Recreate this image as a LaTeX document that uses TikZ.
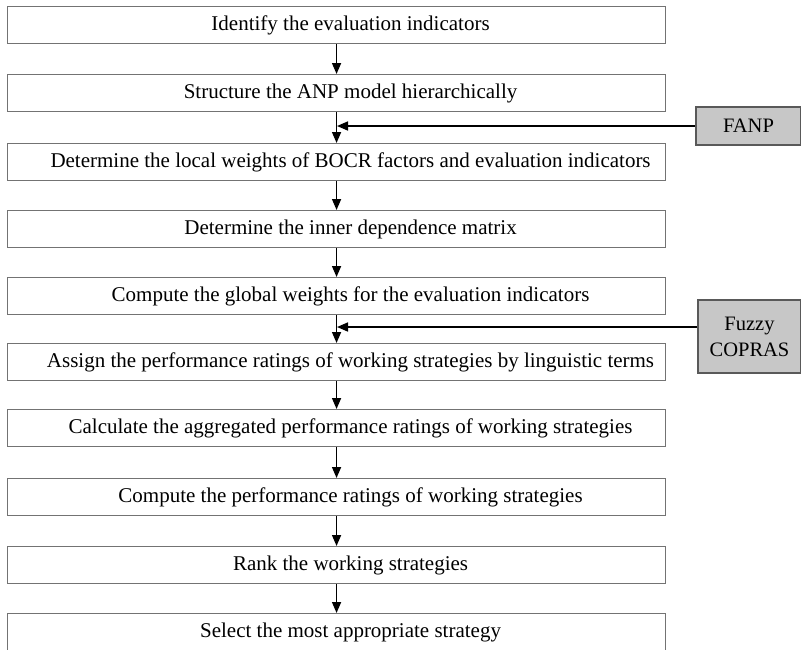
\documentclass[tikz,border=0pt]{standalone}
\usepackage{fontspec}
\setmainfont{Liberation Serif}
\usetikzlibrary{arrows.meta}
\begin{document}
\begin{tikzpicture}[x=1pt,y=-1pt,
  flowbox/.style={draw=black!55, line width=1.1pt, minimum width=658pt, minimum height=37pt, inner sep=0pt, anchor=north west, font=\fontsize{21}{24}\selectfont, execute at begin node={\hspace*{28pt}}},
  sidebox/.style={draw=black!65, line width=2pt, fill=black!22, inner sep=0pt, anchor=north west, align=center, font=\fontsize{20.5}{26}\selectfont},
  flow/.style={line width=1.6pt, -{Triangle[width=9pt,length=11pt]}}]
\useasboundingbox (0,0) rectangle (801,649);
\node[flowbox] (b1) at (7,6) {Identify the evaluation indicators};
\node[flowbox] (b2) at (7,74) {Structure the ANP model hierarchically};
\node[flowbox] (b3) at (7,143) {Determine the local weights of BOCR factors and evaluation indicators};
\node[flowbox] (b4) at (7,210) {Determine the inner dependence matrix};
\node[flowbox] (b5) at (7,277) {Compute the global weights for the evaluation indicators};
\node[flowbox] (b6) at (7,343) {Assign the performance ratings of working strategies by linguistic terms};
\node[flowbox] (b7) at (7,409) {Calculate the aggregated performance ratings of working strategies};
\node[flowbox] (b8) at (7,478) {Compute the performance ratings of working strategies};
\node[flowbox] (b9) at (7,546) {Rank the working strategies};
\node[flowbox] (b10) at (7,613) {Select the most appropriate strategy};
\node[sidebox, minimum width=105pt, minimum height=38pt] (fanp) at (695,106) {FANP};
\node[sidebox, minimum width=103pt, minimum height=73pt] (fc) at (697,299) {Fuzzy\\COPRAS};
\foreach \a/\b in {b1/b2,b2/b3,b3/b4,b4/b5,b5/b6,b6/b7,b7/b8,b8/b9,b9/b10}
  \draw[flow] (\a.south) -- (\b.north);
\coordinate (j1) at (337,126);
\coordinate (j2) at (337,327);
\draw[flow] (fanp.west |- j1) -- (j1);
\draw[flow] (fc.west |- j2) -- (j2);
\end{tikzpicture}
\end{document}
